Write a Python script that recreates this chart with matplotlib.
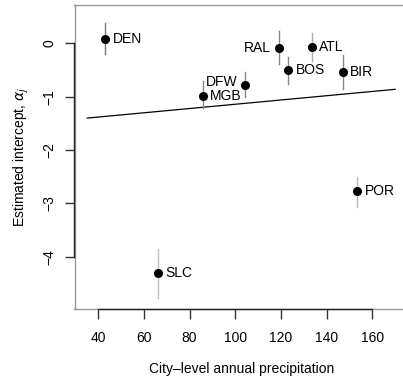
import matplotlib
matplotlib.use("Agg")
import matplotlib.pyplot as plt
import numpy as np

plt.rcParams["font.family"] = ["Liberation Sans", "DejaVu Sans"]

# city estimates
cities = ["DEN", "RAL", "ATL", "BOS", "BIR", "DFW", "MGB", "POR", "SLC"]
precip = [43.1, 119.1, 133.4, 123.2, 147.0, 104.4, 85.7, 153.3, 66.1]
intercept = [0.09, -0.08, -0.07, -0.50, -0.53, -0.78, -0.98, -2.77, -4.31]
lower = [-0.20, -0.39, -0.33, -0.77, -0.86, -1.00, -1.22, -3.07, -4.78]
upper = [0.39, 0.23, 0.19, -0.26, -0.22, -0.53, -0.70, -2.50, -3.85]
bar_gray = ["#777777", "#888888", "#b0b0b0", "#888888", "#888888",
            "#888888", "#888888", "#b8b8b8", "#c0c0c0"]
label_side = ["r", "l", "r", "r", "r", "l", "r", "r", "r"]

# fitted line
line_x = [35.2, 170.0]
line_a, line_b = -1.541, 0.004

W, H = 403, 379
fig = plt.figure(figsize=(W / 100, H / 100), dpi=100)
left, bottom, top = 74.5 / W, (H - 309) / H, (H - 5) / H
xmin, xmax = 29.6, 176.0
width = (xmax - xmin) * 2.2835 / W
ax = fig.add_axes([left, bottom, width, top - bottom])
ax.set_xlim(xmin, xmax)
ax.set_ylim(-4.98, 0.72)

off = 3.4
for i, c in enumerate(cities):
    ax.plot([precip[i], precip[i]], [lower[i], upper[i]], color=bar_gray[i], lw=1, zorder=2)
    ax.plot(precip[i], intercept[i], "o", color="black", ms=5.5, zorder=3)
    if label_side[i] == "r":
        ax.text(precip[i] + off, intercept[i], c, ha="left", va="center", fontsize=10)
    else:
        dy = 0.06 if c == "DFW" else 0
        ax.text(precip[i] - off, intercept[i] + dy, c, ha="right", va="center", fontsize=10)

xs = np.array(line_x)
ax.plot(xs, line_a + line_b * xs, color="black", lw=0.9, zorder=1)

for s in ["left", "top", "bottom", "right"]:
    ax.spines[s].set_color("#999999")
    ax.spines[s].set_linewidth(1)
# R-style axis lines over the box
ax.plot([40, 160], [-4.98, -4.98], color="#222222", lw=1, clip_on=False, zorder=5)
ax.plot([xmin, xmin], [0, -4], color="#222222", lw=1, clip_on=False, zorder=5)

ax.set_xticks([40, 60, 80, 100, 120, 140, 160])
ax.set_yticks([0, -1, -2, -3, -4])
ax.set_yticklabels(["0", "\u22121", "\u22122", "\u22123", "\u22124"], rotation=90, va="center")
ax.tick_params(axis="both", length=7, width=1, color="#333333", labelsize=10)
ax.tick_params(axis="x", pad=9)
ax.tick_params(axis="y", pad=6)
ax.set_xlabel("City\u2013level annual precipitation", fontsize=10, labelpad=12)
ax.set_ylabel(r"Estimated intercept, $\alpha_j$", fontsize=10, labelpad=8)

fig.savefig("out.png", dpi=100)
